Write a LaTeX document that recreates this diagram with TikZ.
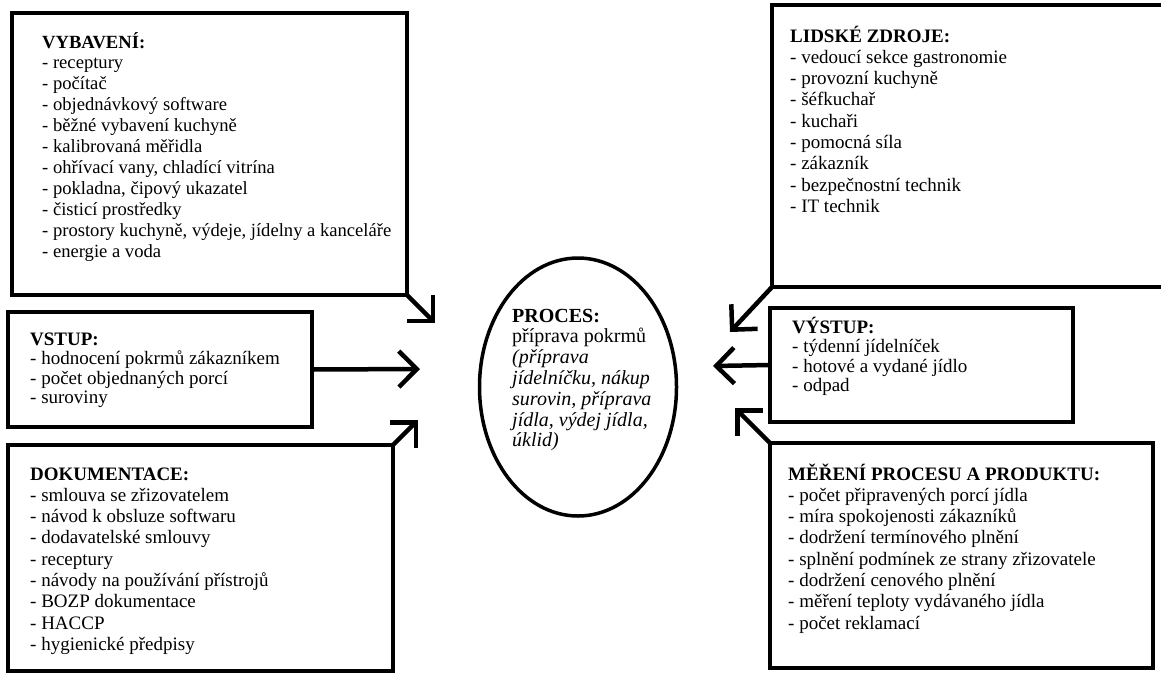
\documentclass[tikz,border=0pt]{standalone}
\usepackage{fontspec}
\setmainfont{Liberation Serif}
\usetikzlibrary{arrows.meta, shapes.geometric}
\newlength{\boxline}
\setlength{\boxline}{4.5pt}
\newcommand{\boxlines}[1]{\begin{tabular}[t]{@{}l@{}}#1\end{tabular}}
\tikzset{box/.style = {shape=rectangle,draw,line width=\boxline,anchor=north west,inner sep=0pt,outer sep=0pt}}
\tikzset{txt/.style = {anchor=base west,inner sep=0pt,font=\fontsize{19}{21.3}\selectfont}}
\tikzset{smalltxt/.style = {txt,font=\fontsize{19}{19.5}\selectfont}}
\tikzset{proces/.style = {shape=ellipse,draw,line width=3.5pt,minimum width=197pt,minimum height=258pt,inner sep=0pt}}
\tikzset{edge/.style = {-{Straight Barb[length=18pt,width=36pt]},line width=4.5pt}}

\begin{document}
\begin{tikzpicture}[x=1pt,y=-1pt]
        \useasboundingbox (0,0) rectangle (1161,673);
        \node[proces] (proc) at (578,387) {};
        \node[txt,font=\fontsize{20}{20.8}\selectfont] (proct) at (512,322) {\boxlines{\textbf{PROCES:}\\ příprava pokrmů\\ \itshape (příprava\\ \itshape jídelníčku, nákup\\ \itshape surovin, příprava\\ \itshape jídla, výdej jídla,\\ \itshape úklid)}};
        \coordinate (t1) at (435,323);
        \coordinate (t2) at (420,369);
        \coordinate (t3) at (418,420);
        \coordinate (t4) at (730,332);
        \coordinate (t5) at (713,366);
        \coordinate (t6) at (735,408);
        % left side
        \node[box,minimum width=395pt,minimum height=282pt] (vyb) at (12,13) {};
        \node[txt,font=\fontsize{18.6}{20.9}\selectfont] (vybt) at (42,48) {\boxlines{\textbf{VYBAVENÍ:}\\ - receptury\\ - počítač\\ - objednávkový software\\ - běžné vybavení kuchyně\\ - kalibrovaná měřidla\\ - ohřívací vany, chladící vitrína\\ - pokladna, čipový ukazatel\\ - čisticí prostředky\\ - prostory kuchyně, výdeje, jídelny a kanceláře\\ - energie a voda}};
        \draw[edge] (vyb.south east) -- (t1);
        \node[box,minimum width=304pt,minimum height=115pt] (vst) at (8,312) {};
        \node[smalltxt] (vstt) at (30,345) {\boxlines{\textbf{VSTUP:}\\ - hodnocení pokrmů zákazníkem\\ - počet objednaných porcí\\ - suroviny}};
        \draw[edge] (vst.east) -- (t2);
        \node[box,minimum width=385pt,minimum height=226pt] (dok) at (8,445) {};
        \node[txt] (dokt) at (30,480) {\boxlines{\textbf{DOKUMENTACE:}\\ - smlouva se zřizovatelem\\ - návod k obsluze softwaru\\ - dodavatelské smlouvy\\ - receptury\\ - návody na používání přístrojů\\ - BOZP dokumentace\\ - HACCP\\ - hygienické předpisy}};
        \draw[edge] (dok.north east) -- (t3);
        % right side
        \node[box,minimum width=395pt,minimum height=282pt] (lid) at (772,5) {};
        \node[txt] (lidt) at (790,42) {\boxlines{\textbf{LIDSKÉ ZDROJE:}\\ - vedoucí sekce gastronomie\\ - provozní kuchyně\\ - šéfkuchař\\ - kuchaři\\ - pomocná síla\\ - zákazník\\ - bezpečnostní technik\\ - IT technik}};
        \draw[edge] (lid.south west) -- (t4);
        \node[box,minimum width=303pt,minimum height=114pt] (vys) at (770,308) {};
        \node[smalltxt] (vyst) at (792,333) {\boxlines{\textbf{VÝSTUP:}\\ - týdenní jídelníček\\ - hotové a vydané jídlo\\ - odpad}};
        \draw[edge] (vys.west) -- (t5);
        \node[box,minimum width=383pt,minimum height=225pt] (mer) at (770,443) {};
        \node[txt] (mert) at (788,480) {\boxlines{\textbf{MĚŘENÍ PROCESU A PRODUKTU:}\\ - počet připravených porcí jídla\\ - míra spokojenosti zákazníků\\ - dodržení termínového plnění\\ - splnění podmínek ze strany zřizovatele\\ - dodržení cenového plnění\\ - měření teploty vydávaného jídla\\ - počet reklamací}};
        \draw[edge] (mer.north west) -- (t6);
    \end{tikzpicture}
\end{document}
